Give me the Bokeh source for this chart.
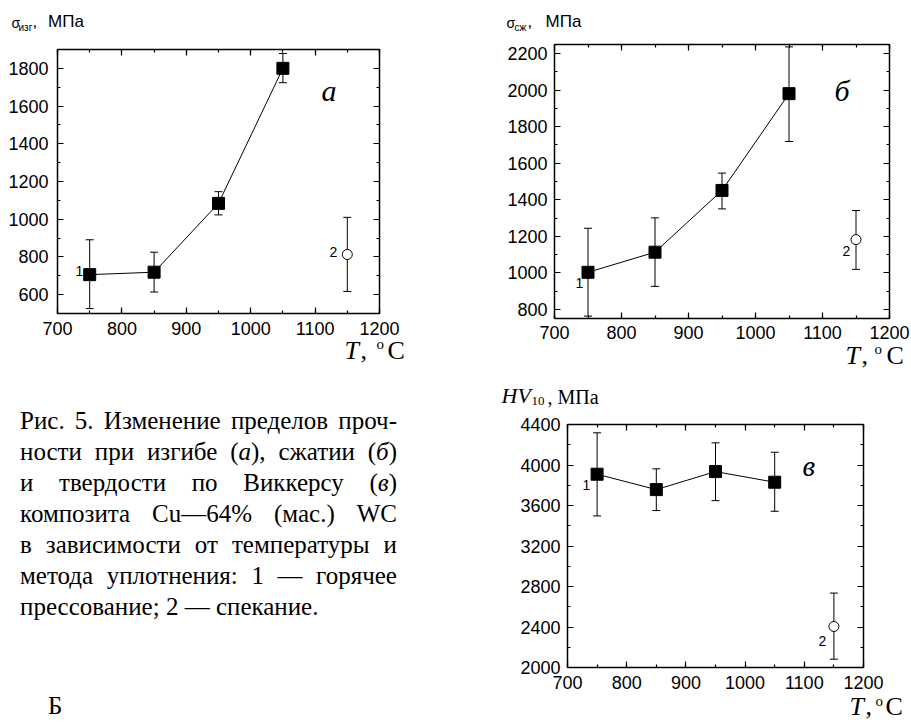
from bokeh.plotting import figure
from bokeh.models import (Label, LinearAxis, SingleIntervalTicker, Div, Range1d,
                          CustomLabelingPolicy)
from bokeh.layouts import row, column
from bokeh.embed import file_html
from bokeh.resources import INLINE

# ---------------- data ----------------
T_hp = [750, 850, 950, 1050]          # 1 - hot pressing
T_s = [1150]                          # 2 - sintering

bend_hp = [706, 719, 1084, 1800]
bend_hp_lo = [526, 614, 1023, 1724]
bend_hp_hi = [891, 825, 1146, 1879]
bend_s = [813]
bend_s_lo = [617]
bend_s_hi = [1010]

comp_hp = [1003, 1113, 1451, 1981]
comp_hp_lo = [763, 926, 1350, 1719]
comp_hp_hi = [1244, 1301, 1546, 2237]
comp_s = [1182]
comp_s_lo = [1019]
comp_s_hi = [1341]

hv_hp = [3909, 3757, 3935, 3830]
hv_hp_lo = [3497, 3550, 3648, 3543]
hv_hp_hi = [4318, 3962, 4219, 4126]
hv_s = [2405]
hv_s_lo = [2082]
hv_s_hi = [2735]

x_lim = (700, 1200)
x_tick_step = 100
bend_lim = (500, 1900)
bend_tick_step = 200
comp_lim = (750, 2250)
comp_tick_step = 200
hv_lim = (2000, 4400)
hv_tick_step = 400

SANS = "Liberation Sans"
SERIF = "Liberation Serif"
BASE_SHIFT = 0.3   # em offset of Bokeh's label anchor below the glyph baseline

HIDE = "for (const i of Array.from(indices)) { indices.unset(i) }\nreturn indices"


def make_axis(loc, bounds, step, labels, standoff=6, fsize=18):
    ax = LinearAxis(fixed_location=loc, bounds=bounds,
                    ticker=SingleIntervalTicker(interval=step, num_minor_ticks=2))
    ax.axis_line_color = "black"
    ax.axis_line_width = 1.5
    ax.major_tick_in = 6
    ax.major_tick_out = 0
    ax.minor_tick_in = 3
    ax.minor_tick_out = 0
    ax.major_tick_line_color = "black"
    ax.minor_tick_line_color = "black"
    ax.major_tick_line_width = 1.2
    ax.minor_tick_line_width = 1.2
    ax.major_label_text_font = SANS
    ax.major_label_text_color = "black"
    ax.major_label_text_font_size = f"{fsize}px"
    ax.major_label_standoff = standoff
    if not labels:
        ax.major_label_policy = CustomLabelingPolicy(code=HIDE)
    return ax


def make_panel(fig_box, frame_box, ylim, ystep, ystand, xstand,
               hp, hp_lo, hp_hi, s, s_lo, s_hi):
    FX, FY, W, H = fig_box
    L, T, R, B = frame_box
    x0, x1 = x_lim
    y0, y1 = ylim
    kx = (x1 - x0) / (R - L)
    ky = (y1 - y0) / (B - T)
    xr = Range1d(x0 - (L - FX) * kx, x0 + (FX + W - L) * kx)
    yr = Range1d(y0 - (FY + H - B) * ky, y1 + (T - FY) * ky)
    p = figure(width=W, height=H, x_range=xr, y_range=yr,
               output_backend="svg", toolbar_location=None,
               x_axis_location=None, y_axis_location=None,
               min_border=0, min_border_left=0, min_border_right=0,
               min_border_top=0, min_border_bottom=0,
               background_fill_color="white", border_fill_color="white")
    p.outline_line_color = None
    p.xgrid.visible = False
    p.ygrid.visible = False
    p.add_layout(make_axis(y0, x_lim, x_tick_step, True, xstand), "below")
    p.add_layout(make_axis(x0, ylim, ystep, True, ystand), "left")
    p.add_layout(make_axis(y1, x_lim, x_tick_step, False), "above")
    p.add_layout(make_axis(x1, ylim, ystep, False), "right")

    xs = T_hp + T_s
    lo = hp_lo + s_lo
    hi = hp_hi + s_hi
    p.segment(x0=xs, y0=lo, x1=xs, y1=hi, line_color="black", line_width=1)
    p.scatter(xs, lo, marker="dash", size=8, line_color="black", line_width=1)
    p.scatter(xs, hi, marker="dash", size=8, line_color="black", line_width=1)
    p.line(T_hp, hp, line_color="black", line_width=1)
    p.scatter(T_hp, hp, marker="square", size=12, fill_color="black", line_color="black")
    p.scatter(T_s, s, marker="circle", size=10, fill_color="white",
              line_color="black", line_width=1)

    def txt(X, Y, text, size, font=SANS, style="normal"):
        p.add_layout(Label(x=X - FX, y=FY + H - Y + BASE_SHIFT * size,
                           x_units="screen", y_units="screen",
                           text=text, text_font_size=f"{size}px", text_font=font,
                           text_font_style=style, text_align="left",
                           text_baseline="alphabetic", text_color="black"))
    return p, txt


# ---------- panel a ----------
pa, ta = make_panel((0, 0, 480, 370), (57, 49, 379, 313), bend_lim, bend_tick_step, 9, 8,
                    bend_hp, bend_hp_lo, bend_hp_hi, bend_s, bend_s_lo, bend_s_hi)
ta(11, 27, "σ", 14)
ta(18, 29.5, "изг", 10)
ta(32, 26, ",", 17)
ta(47.5, 26, "МПа", 17)
ta(321, 99, "а", 30, SERIF, "italic")
ta(75, 275, "1", 14)
ta(329, 256, "2", 14)
ta(344, 358, "T", 26, SERIF, "italic")
ta(360, 358, ",", 26, SERIF)
ta(376, 348, "o", 15, SERIF)
ta(387, 358, "C", 26, SERIF)

# ---------- panel б ----------
pb, tb = make_panel((480, 0, 430, 370), (554, 44, 889, 318), comp_lim, comp_tick_step, 7, 7,
                    comp_hp, comp_hp_lo, comp_hp_hi, comp_s, comp_s_lo, comp_s_hi)
tb(506, 27, "σ", 14)
tb(514, 29.5, "сж", 10)
tb(527, 26, ",", 17)
tb(545, 26, "МПа", 17)
tb(834, 99, "б", 30, SERIF, "italic")
tb(575, 287, "1", 14)
tb(842, 255, "2", 14)
tb(845, 363, "T", 26, SERIF, "italic")
tb(861, 363, ",", 26, SERIF)
tb(874, 353, "o", 15, SERIF)
tb(886, 363, "C", 26, SERIF)

# ---------- panel в ----------
pc, tc = make_panel((480, 370, 430, 353), (567, 424, 863, 667), hv_lim, hv_tick_step, 7, 8,
                    hv_hp, hv_hp_lo, hv_hp_hi, hv_s, hv_s_lo, hv_s_hi)
tc(501, 402, "HV", 22, SERIF, "italic")
tc(531, 404, "10", 13, SERIF)
tc(547, 402, ",", 20, SERIF)
tc(557, 402, "МПа", 20, SERIF)
tc(802, 474, "в", 29, SERIF, "italic")
tc(582, 489, "1", 14)
tc(818, 645, "2", 14)
tc(849, 714, "T", 26, SERIF, "italic")
tc(865, 714, ",", 26, SERIF)
tc(875, 705, "o", 15, SERIF)
tc(885, 714, "C", 26, SERIF)

# ---------- caption ----------
lines = [
    ["Рис.", "5.", "Изменение", "пределов", "проч-"],
    ["ности", "при", "изгибе", "(<i>а</i>),", "сжатии", "(<i>б</i>)"],
    ["и", "твердости", "по", "Виккерсу", "(<i>в</i>)"],
    ["композита", "Cu—64%", "(мас.)", "WC"],
    ["в", "зависимости", "от", "температуры", "и"],
    ["метода", "уплотнения:", "1", "—", "горячее"],
]
last_line = "прессование; 2 — спекание."
html = ('<div style="box-sizing:border-box; height:353px; overflow:hidden; '
        'padding:35px 0 0 20px; font-family:\'Liberation Serif\'; '
        'font-size:25px; line-height:31px; color:#000;">')
for words in lines:
    html += ('<div style="display:flex; justify-content:space-between; width:377px; '
             'white-space:nowrap;">' + "".join(f"<span>{w}</span>" for w in words) + "</div>")
html += f'<div style="white-space:nowrap;">{last_line}</div>'
html += '<div style="margin-top:68px; padding-left:28px;">Б</div></div>'
cap = Div(text=html, width=480, height=353, margin=(0, 0, 0, 0))

layout = column(row(pa, pb, spacing=0), row(cap, pc, spacing=0), spacing=0)

open("out.html", "w").write(file_html(layout, INLINE))
